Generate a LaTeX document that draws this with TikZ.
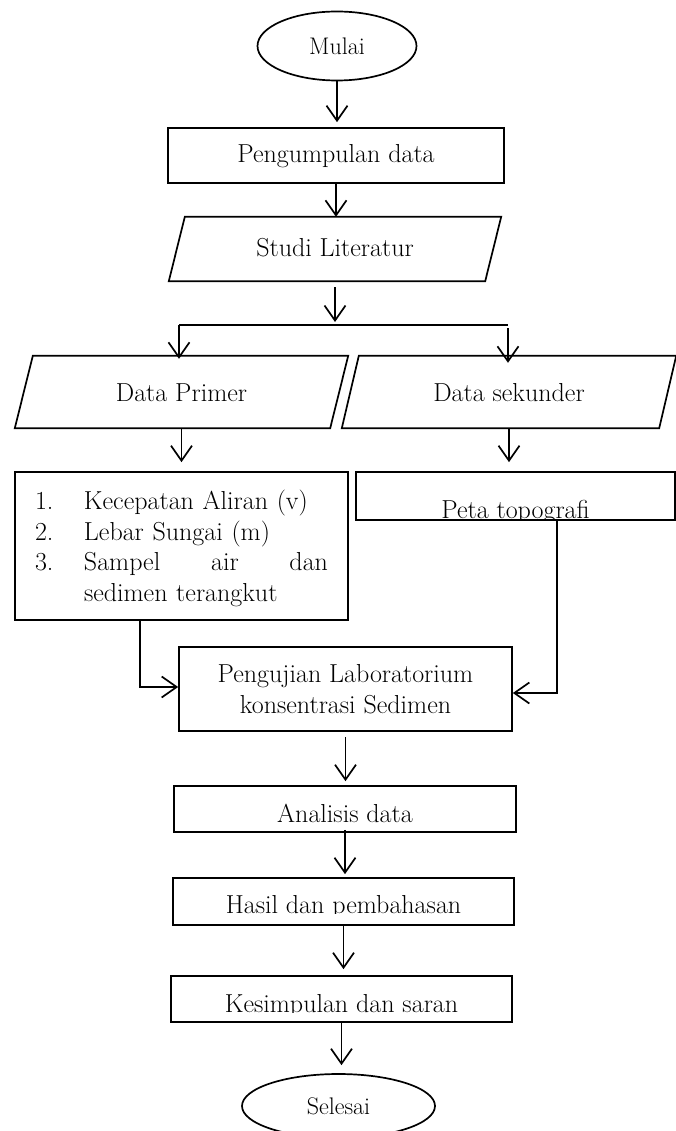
\documentclass[tikz,border=0pt]{standalone}
\usetikzlibrary{arrows.meta,shapes.geometric,calc}
\newcommand{\drawpara}[2]{\draw[lw] ([xshift=#2]#1.north west) -- (#1.north east) -- ([xshift=-#2]#1.south east) -- (#1.south west) -- cycle;}
\begin{document}
\begin{tikzpicture}[x=1pt,y=-1pt,
  lw/.style={line width=1.7pt},
  box/.style={draw, lw, rectangle, inner sep=0pt, font=\fontsize{26}{31}\selectfont},
  term/.style={draw, lw, ellipse, inner sep=0pt, font=\fontsize{24}{28}\selectfont},
  plain/.style={rectangle, inner sep=0pt, font=\fontsize{26}{31}\selectfont},
  txt/.style={inner sep=0pt, font=\fontsize{26}{31}\selectfont, anchor=base},
  arr/.style={lw, -{Straight Barb[length=15pt,width=21pt]}}]
\useasboundingbox (0,0) rectangle (676,1131);
\fill[white] (0,0) rectangle (676,1131);

% nodes
\node[term, minimum width=159pt, minimum height=69pt] (mulai) at (337,46) {Mulai};
\node[box, minimum width=336pt, minimum height=55pt, text height=20pt, text depth=5pt] (peng) at (336,155.5) {Pengumpulan data};
\node[plain, minimum width=332pt, minimum height=64pt, text height=16pt, text depth=0pt] (studi) at (335,249) {Studi Literatur};
\drawpara{studi}{16pt}
\node[plain, minimum width=333pt, minimum height=72pt, text height=18pt, text depth=0pt] (primer) at (181.5,392) {Data Primer};
\drawpara{primer}{18pt}
\node[plain, minimum width=334pt, minimum height=72pt, text height=18pt, text depth=0pt] (sekunder) at (509,392) {Data sekunder};
\drawpara{sekunder}{17pt}

\node[box, minimum width=333pt, minimum height=148pt, text width=293pt, align=left, font=\fontsize{26}{30.5}\selectfont] (list) at (181.5,546)
{\rule{0pt}{24pt}\makebox[49pt][l]{1.}Kecepatan Aliran (v)\\
\makebox[49pt][l]{2.}Lebar Sungai (m)\\
\makebox[49pt][l]{3.}\makebox[244pt][l]{Sampel\hfill air\hfill dan}\\
\hspace*{49pt}sedimen terangkut};

\node[box, minimum width=319pt, minimum height=48pt] (peta) at (515.5,496) {};
\begin{scope}
\clip (357,473) rectangle (674,519);
\node[txt] (petaT) at (515.5,518) {Peta topografi};
\end{scope}

\node[box, minimum width=333pt, minimum height=84pt, align=center] (uji) at (345.5,689) {Pengujian Laboratorium\\konsentrasi Sedimen};
\node[box, minimum width=342pt, minimum height=46pt, text height=26pt, text depth=0pt] (anal) at (345,809) {Analisis data};

\node[box, minimum width=341pt, minimum height=47pt] (hasil) at (343.5,901.5) {};
\begin{scope}
\clip (174,879) rectangle (513,913.5);
\node[txt] (hasilT) at (343.5,913) {Hasil dan pembahasan};
\end{scope}

\node[box, minimum width=341pt, minimum height=46pt] (kesim) at (341.5,999) {};
\begin{scope}
\clip (172,977) rectangle (511,1012.5);
\node[txt] (kesimT) at (341.5,1012) {Kesimpulan dan saran};
\end{scope}

\node[term, minimum width=193pt, minimum height=64pt] (selesai) at (338.5,1106) {Selesai};

% coordinates
\coordinate (split) at (335,325);
\coordinate (splitL) at (179,325);
\coordinate (splitR) at (508,325);
\coordinate (jl) at (140,687);
\coordinate (jr) at (557,693);

% connectors
\draw[arr, shorten >=5pt] (mulai.south) -- (mulai.south |- peng.north);
\draw[arr] (peng.south) -- (peng.south |- studi.north);
\draw[arr, shorten <=6pt, shorten >=3pt] (studi.south) -- (split);
\draw[lw] (splitL) -- (splitR);
\draw[arr, shorten >=-3pt] (splitL) -- (splitL |- primer.north);
\draw[arr, shorten <=3pt, shorten >=-7pt] (splitR) -- (splitR |- sekunder.north);
\draw[arr, shorten >=9pt] (primer.south) -- (primer.south |- list.north);
\draw[arr, shorten >=9pt] (sekunder.south) -- (sekunder.south |- peta.north);
\draw[arr] (list.south -| jl) -- (jl) -- (jl -| uji.west);
\draw[arr] (peta.south -| jr) -- (jr) -- (jr -| uji.east);
\draw[arr, shorten <=5pt, shorten >=4pt] (uji.south) -- (uji.south |- anal.north);
\draw[arr, shorten <=-3pt, shorten >=3pt] (anal.south) -- (anal.south |- hasil.north);
\draw[arr, shorten >=6pt] (hasil.south) -- (hasil.south |- kesim.north);
\draw[arr, shorten >=8pt] (kesim.south) -- (kesim.south |- selesai.north);
\end{tikzpicture}
\end{document}
